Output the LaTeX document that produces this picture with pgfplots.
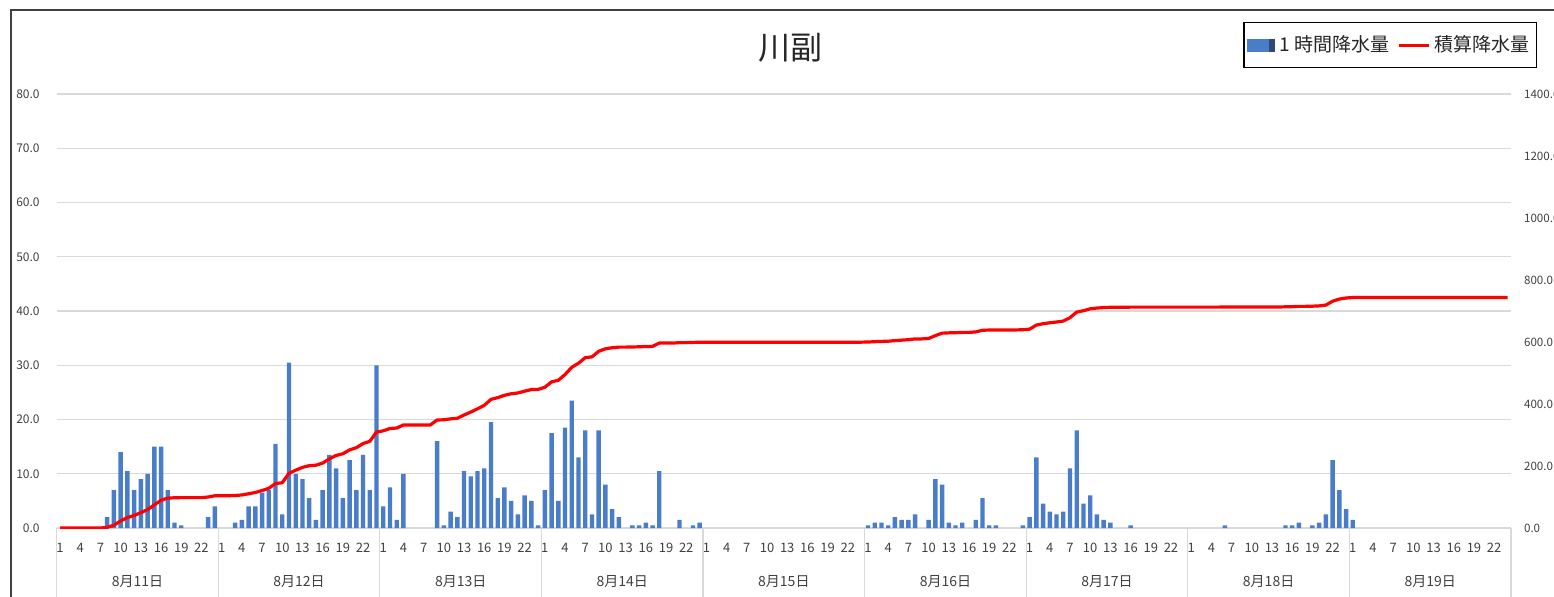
\documentclass[border=0pt]{standalone}
\usepackage{pgfplots}
\pgfplotsset{compat=1.18}
\usepackage{pgfplotstable}
\usepackage{fontspec}
\setmainfont{Noto Sans CJK JP}
\definecolor{barblue}{HTML}{4A7DC9}
\definecolor{gridgray}{HTML}{D9D9D9}
\definecolor{txt}{HTML}{404040}

\pgfplotstableread{
x h c
1 0 0
2 0 0
3 0 0
4 0 0
5 0 0
6 0 0
7 0 0
8 2 2
9 7 9
10 14 23
11 10.5 33.5
12 7 40.5
13 9 49.5
14 10 59.5
15 15 74.5
16 15 89.5
17 7 96.5
18 1 97.5
19 0.5 98
20 0 98
21 0 98
22 0 98
23 2 100
24 4 104
25 0 104
26 0 104
27 1 105
28 1.5 106.5
29 4 110.5
30 4 114.5
31 6.5 121
32 7 128
33 15.5 143.5
34 2.5 146
35 30.5 176.5
36 10 186.5
37 9 195.5
38 5.5 201
39 1.5 202.5
40 7 209.5
41 13.5 223
42 11 234
43 5.5 239.5
44 12.5 252
45 7 259
46 13.5 272.5
47 7 279.5
48 30 309.5
49 4 313.5
50 7.5 321
51 1.5 322.5
52 10 332.5
53 0 332.5
54 0 332.5
55 0 332.5
56 0 332.5
57 16 348.5
58 0.5 349
59 3 352
60 2 354
61 10.5 364.5
62 9.5 374
63 10.5 384.5
64 11 395.5
65 19.5 415
66 5.5 420.5
67 7.5 428
68 5 433
69 2.5 435.5
70 6 441.5
71 5 446.5
72 0.5 447
73 7 454
74 17.5 471.5
75 5 476.5
76 18.5 495
77 23.5 518.5
78 13 531.5
79 18 549.5
80 2.5 552
81 18 570
82 8 578
83 3.5 581.5
84 2 583.5
85 0 583.5
86 0.5 584
87 0.5 584.5
88 1 585.5
89 0.5 586
90 10.5 596.5
91 0 596.5
92 0 596.5
93 1.5 598
94 0 598
95 0.5 598.5
96 1 599.5
97 0 599.5
98 0 599.5
99 0 599.5
100 0 599.5
101 0 599.5
102 0 599.5
103 0 599.5
104 0 599.5
105 0 599.5
106 0 599.5
107 0 599.5
108 0 599.5
109 0 599.5
110 0 599.5
111 0 599.5
112 0 599.5
113 0 599.5
114 0 599.5
115 0 599.5
116 0 599.5
117 0 599.5
118 0 599.5
119 0 599.5
120 0 599.5
121 0.5 600
122 1 601
123 1 602
124 0.5 602.5
125 2 604.5
126 1.5 606
127 1.5 607.5
128 2.5 610
129 0 610
130 1.5 611.5
131 9 620.5
132 8 628.5
133 1 629.5
134 0.5 630
135 1 631
136 0 631
137 1.5 632.5
138 5.5 638
139 0.5 638.5
140 0.5 639
141 0 639
142 0 639
143 0 639
144 0.5 639.5
145 2 641.5
146 13 654.5
147 4.5 659
148 3 662
149 2.5 664.5
150 3 667.5
151 11 678.5
152 18 696.5
153 4.5 701
154 6 707
155 2.5 709.5
156 1.5 711
157 1 712
158 0 712
159 0 712
160 0.5 712.5
161 0 712.5
162 0 712.5
163 0 712.5
164 0 712.5
165 0 712.5
166 0 712.5
167 0 712.5
168 0 712.5
169 0 712.5
170 0 712.5
171 0 712.5
172 0 712.5
173 0 712.5
174 0.5 713
175 0 713
176 0 713
177 0 713
178 0 713
179 0 713
180 0 713
181 0 713
182 0 713
183 0.5 713.5
184 0.5 714
185 1 715
186 0 715
187 0.5 715.5
188 1 716.5
189 2.5 719
190 12.5 731.5
191 7 738.5
192 3.5 742
193 1.5 743.5
194 0 743.5
195 0 743.5
196 0 743.5
197 0 743.5
198 0 743.5
199 0 743.5
200 0 743.5
201 0 743.5
202 0 743.5
203 0 743.5
204 0 743.5
205 0 743.5
206 0 743.5
207 0 743.5
208 0 743.5
209 0 743.5
210 0 743.5
211 0 743.5
212 0 743.5
213 0 743.5
214 0 743.5
215 0 743.5
216 0 743.5
}\data

\pgfplotsset{
  common/.style={
    at={(28.35pt,34pt)}, anchor=south west,
    scale only axis, width=727.15pt, height=217pt,
    xmin=0.5, xmax=216.5, ymin=0,
    axis line style={draw=none},
    tick style={draw=none},
    major tick length=0pt,
  }
}

\begin{document}
\begin{tikzpicture}
\useasboundingbox (0,0) rectangle (777pt,298pt);
\clip (0,0) rectangle (777pt,298pt);
\draw[color=black!75, line width=1pt] (5.25pt,-2pt) -- (5.25pt,293pt) -- (780pt,293pt);

\begin{axis}[common,
  ymax=80, ytick={0,10,...,80},
  ymajorgrids, grid style={gridgray, line width=0.6pt},
  clip=false,
  unbounded coords=discard,
  yticklabel style={font=\fontsize{6}{7}\selectfont, text=txt,
    /pgf/number format/.cd, fixed, fixed zerofill, precision=1, assume math mode=true},
  ytick pos=left,
  yticklabel shift=5pt,
  xtick={1,4,...,214},
  xticklabels={1,4,7,10,13,16,19,22,1,4,7,10,13,16,19,22,1,4,7,10,13,16,19,22,1,4,7,10,13,16,19,22,1,4,7,10,13,16,19,22,1,4,7,10,13,16,19,22,1,4,7,10,13,16,19,22,1,4,7,10,13,16,19,22,1,4,7,10,13,16,19,22},
  xticklabel style={font=\fontsize{6.5}{7}\selectfont, text=txt, anchor=center, yshift=-10pt},
  extra x ticks={12.5,36.5,60.5,84.5,108.5,132.5,156.5,180.5,204.5},
  extra x tick labels={8月11日,8月12日,8月13日,8月14日,8月15日,8月16日,8月17日,8月18日,8月19日},
  extra x tick style={grid=none, xticklabel style={yshift=-17pt, font=\fontsize{7}{8}\selectfont}},
]
\addplot[ybar, bar width=2.2pt, fill=barblue, draw=none,
  y filter/.expression={y==0 ? nan : y}] table[x=x,y=h]{\data};
\pgfplotsinvokeforeach{0.5,24.5,48.5,72.5,96.5,120.5,144.5,168.5,192.5,216.5}{
  \draw[gridgray, line width=0.6pt] (axis cs:#1,0) -- ++(0pt,-45pt);
}
\end{axis}

\begin{axis}[common,
  ymax=1400, ytick={0,200,...,1400},
  axis y line*=right,
  xtick=\empty,
  yticklabel style={font=\fontsize{5.8}{7}\selectfont, text=txt, anchor=west,
    /pgf/number format/.cd, fixed, fixed zerofill, precision=1, 1000 sep={}, assume math mode=true},
  yticklabel shift=3pt,
  legend columns=2,
  legend style={at={(1.0179,1.1659)}, anchor=north east, draw=black, line width=0.7pt,
    font=\fontsize{9.5}{11}\selectfont, text=black!85, inner xsep=1.5pt, inner ysep=4.5pt,
    /tikz/every even column/.append style={column sep=2pt}},
]
\addlegendimage{legend image code/.code={\fill[barblue] (0pt,-3pt) rectangle (13.5pt,3pt);\fill[barblue!60!black] (11pt,-3pt) rectangle (13.5pt,3pt);}}
\addlegendentry{1 時間降水量}
\addplot[red, line width=1.6pt, line join=round, legend image code/.code={\draw[red, line width=1.6pt] (0pt,0pt) -- (15pt,0pt);}] table[x=x,y=c]{\data};
\addlegendentry{積算降水量}
\end{axis}

\node[font=\fontsize{16}{18}\selectfont, text=black!85] at (395pt,274pt) {川副};
\end{tikzpicture}
\end{document}
